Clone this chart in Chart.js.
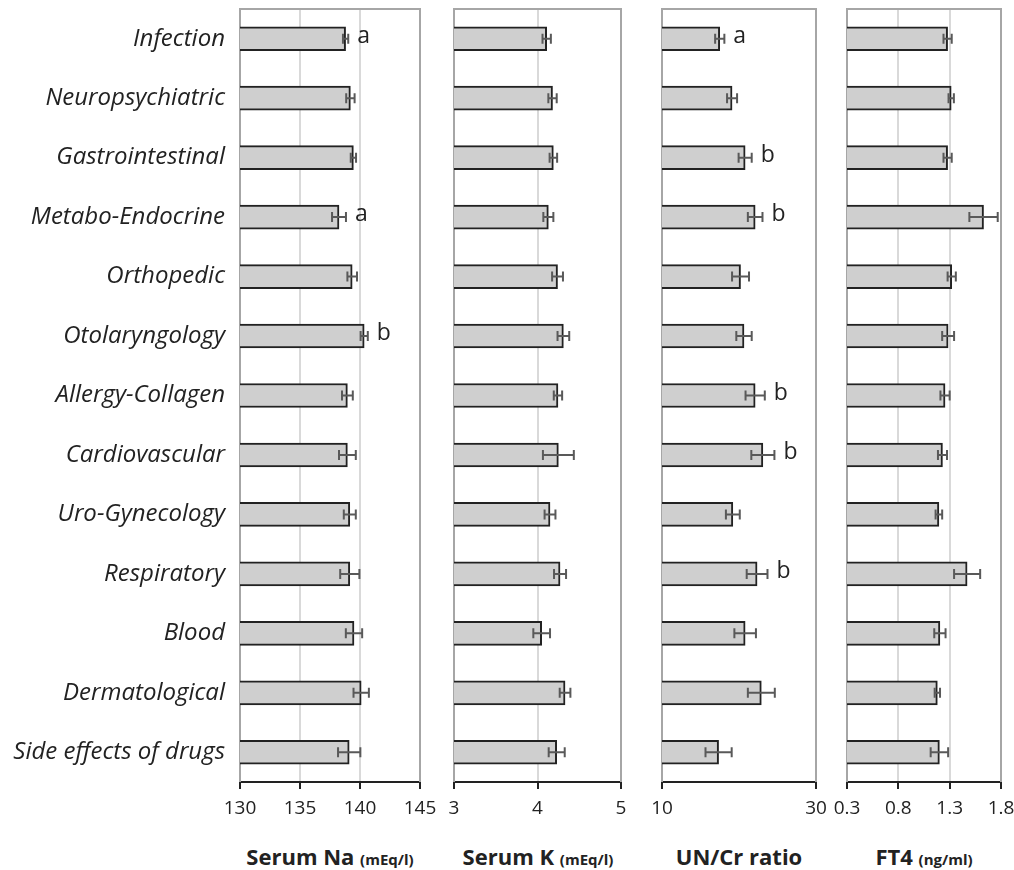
<!DOCTYPE html>
<html>
<head>
<meta charset="utf-8">
<script src="https://cdn.jsdelivr.net/npm/chart.js@4.4.0/dist/chart.umd.min.js"></script>
<style>
  body { margin: 0; width: 1014px; height: 870px; overflow: hidden; background: #fff; position: relative; font-family: 'Open Sans', sans-serif; }
  canvas { position: absolute; top: 0; }
  .title { position: absolute; top: 841px; width: 300px; line-height: 30px; font-size: 22px; font-weight: bold; color: #222; text-align: center; white-space: nowrap; }
  .title span { font-size: 15px; }
</style>
</head>
<body>
<canvas id="cNa" width="440" height="840" style="left:0px"></canvas>
<canvas id="cK" width="200" height="840" style="left:434px"></canvas>
<canvas id="cUC" width="196" height="840" style="left:640px"></canvas>
<canvas id="cFT4" width="220" height="840" style="left:824px"></canvas>

<div class="title" style="left:180px">Serum Na <span>(mEq/l)</span></div>
<div class="title" style="left:388px">Serum K <span>(mEq/l)</span></div>
<div class="title" style="left:589px">UN/Cr ratio</div>
<div class="title" style="left:774px">FT4 <span>(ng/ml)</span></div>

<script>
// categories (top to bottom)
const categories = ['Infection', 'Neuropsychiatric', 'Gastrointestinal', 'Metabo-Endocrine', 'Orthopedic',
    'Otolaryngology', 'Allergy-Collagen', 'Cardiovascular', 'Uro-Gynecology', 'Respiratory', 'Blood',
    'Dermatological', 'Side effects of drugs'];

// Serum Na (mEq/l)
const naMean = [138.8, 139.2, 139.45, 138.25, 139.35, 140.35, 138.95, 138.95, 139.15, 139.15, 139.5, 140.1, 139.1];
const naErr  = [0.22, 0.35, 0.22, 0.58, 0.4, 0.3, 0.45, 0.7, 0.5, 0.8, 0.68, 0.64, 0.93];
const naMark = ['a', '', '', 'a', '', 'b', '', '', '', '', '', '', ''];
const naTicks = [130, 135, 140, 145];
const naTickLabels = ['130', '135', '140', '145'];

// Serum K (mEq/l)
const kMean = [4.11, 4.18, 4.19, 4.13, 4.24, 4.31, 4.245, 4.25, 4.15, 4.27, 4.05, 4.33, 4.23];
const kErr  = [0.05, 0.05, 0.045, 0.06, 0.065, 0.07, 0.05, 0.185, 0.065, 0.072, 0.1, 0.064, 0.096];
const kMark = ['', '', '', '', '', '', '', '', '', '', '', '', ''];
const kTicks = [3, 4, 5];
const kTickLabels = ['3', '4', '5'];

// UN/Cr ratio
const ucMean = [17.5, 19.1, 20.8, 22.1, 20.2, 20.65, 22.1, 23.1, 19.2, 22.35, 20.8, 22.9, 17.35];
const ucErr  = [0.6, 0.65, 0.85, 0.95, 1.1, 1.0, 1.25, 1.5, 0.9, 1.35, 1.4, 1.75, 1.7];
const ucMark = ['a', '', 'b', 'b', '', '', 'b', 'b', '', 'b', '', '', ''];
const ucTicks = [10, 30];
const ucTickLabels = ['10', '30'];

// FT4 (ng/ml)
const ft4Mean = [1.28, 1.315, 1.28, 1.63, 1.32, 1.285, 1.255, 1.23, 1.195, 1.47, 1.205, 1.18, 1.2];
const ft4Err  = [0.04, 0.026, 0.04, 0.138, 0.04, 0.058, 0.045, 0.044, 0.032, 0.127, 0.055, 0.026, 0.085];
const ft4Mark = ['', '', '', '', '', '', '', '', '', '', '', '', ''];
const ft4Ticks = [0.3, 0.8, 1.3, 1.8];
const ft4TickLabels = ['0.3', '0.8', '1.3', '1.8'];

const FONT = "'Open Sans', sans-serif";

// gray frame on left / top / right of the plot area
const framePlugin = {
    id: 'frame',
    beforeDatasetsDraw(chart) {
        const a = chart.chartArea, c = chart.ctx;
        c.save();
        c.strokeStyle = '#a6a6a6';
        c.lineWidth = 2;
        c.beginPath();
        c.moveTo(a.left, a.bottom);
        c.lineTo(a.left, a.top);
        c.lineTo(a.right, a.top);
        c.lineTo(a.right, a.bottom);
        c.stroke();
        c.restore();
    }
};

// error bars and significance letters
const errorPlugin = {
    id: 'errorBars',
    afterDatasetsDraw(chart) {
        const ds = chart.data.datasets[0];
        const meta = chart.getDatasetMeta(0);
        const xs = chart.scales.x, c = chart.ctx;
        c.save();
        c.strokeStyle = '#595959';
        c.lineWidth = 2;
        meta.data.forEach((bar, i) => {
            const y = bar.y;
            const x1 = xs.getPixelForValue(ds.data[i] - ds.errors[i]);
            const x2 = xs.getPixelForValue(ds.data[i] + ds.errors[i]);
            c.beginPath();
            c.moveTo(x1, y); c.lineTo(x2, y);
            c.moveTo(x1, y - 5); c.lineTo(x1, y + 5);
            c.moveTo(x2, y - 5); c.lineTo(x2, y + 5);
            c.stroke();
            if (ds.marks[i]) {
                c.fillStyle = '#222';
                c.font = '23px ' + FONT;
                c.textAlign = 'left';
                c.textBaseline = 'alphabetic';
                c.fillText(ds.marks[i], x2 + 9, y + 4);
            }
        });
        c.restore();
    }
};

function noPad(s) {
    s.paddingTop = 0; s.paddingBottom = 0; s.paddingLeft = 0; s.paddingRight = 0;
}

function makePanel(id, mean, err, marks, ticks, tickLabels, showCats, padding) {
    const last = ticks.length - 1;
    return new Chart(document.getElementById(id), {
        type: 'bar',
        data: {
            labels: categories,
            datasets: [{
                data: mean,
                errors: err,
                marks: marks,
                backgroundColor: '#cfcfcf',
                borderColor: '#222',
                borderWidth: 2,
                borderSkipped: false,
                barThickness: 24
            }]
        },
        options: {
            indexAxis: 'y',
            responsive: false,
            animation: false,
            layout: { padding: padding, autoPadding: false },
            plugins: { legend: { display: false }, tooltip: { enabled: false } },
            scales: {
                x: {
                    min: ticks[0],
                    max: ticks[last],
                    afterBuildTicks: (s) => { s.ticks = ticks.map(v => ({ value: v })); },
                    afterFit: (s) => { s.height = 58; noPad(s); },
                    grid: {
                        color: (ctx) => (ctx.index === 0 || ctx.index === last) ? 'rgba(0,0,0,0)' : '#d9d9d9',
                        lineWidth: 2,
                        drawTicks: true,
                        tickLength: 7,
                        tickColor: '#222',
                        tickWidth: 2
                    },
                    border: { display: true, color: '#222', width: 2 },
                    ticks: {
                        autoSkip: false,
                        maxRotation: 0,
                        padding: 8,
                        color: '#222',
                        font: { family: FONT, size: 19 },
                        callback: (v, i) => tickLabels[i]
                    }
                },
                y: {
                    display: showCats,
                    afterFit: (s) => { s.width = showCats ? 240 : 0; noPad(s); },
                    grid: { display: false, drawTicks: false },
                    border: { display: false },
                    ticks: {
                        padding: 15,
                        color: '#222',
                        font: { family: FONT, size: 24, style: 'italic' }
                    }
                }
            }
        },
        plugins: [framePlugin, errorPlugin]
    });
}

makePanel('cNa', naMean, naErr, naMark, naTicks, naTickLabels, true, { top: 9, left: 0, right: 20, bottom: 0 });
makePanel('cK', kMean, kErr, kMark, kTicks, kTickLabels, false, { top: 9, left: 20, right: 13, bottom: 0 });
makePanel('cUC', ucMean, ucErr, ucMark, ucTicks, ucTickLabels, false, { top: 9, left: 22, right: 20, bottom: 0 });
makePanel('cFT4', ft4Mean, ft4Err, ft4Mark, ft4Ticks, ft4TickLabels, false, { top: 9, left: 23, right: 43, bottom: 0 });
</script>
</body>
</html>
